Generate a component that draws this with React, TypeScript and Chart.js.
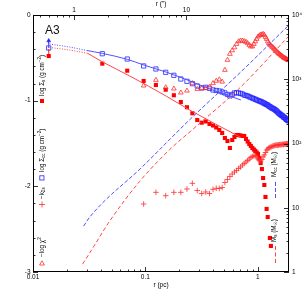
import { useEffect, useRef } from "react";
import { Chart, registerables } from "chart.js";
Chart.register(...registerables);

const FONT = '"Liberation Sans", "DejaVu Sans", Arial, sans-serif';
const RED = "rgb(255,0,0)";
const RED_LIGHT = "rgb(255,45,45)";
const BLUE = "rgb(35,35,255)";
const BLUE_LINE = "rgb(80,80,255)";
const RED_LINE = "rgb(255,70,70)";

// annulus radii (pc)
const RADII_PC = [
  0.0138, 0.0414, 0.069, 0.0966, 0.1242, 0.1518, 0.1794, 0.207, 0.2346, 0.2622,
  0.2898, 0.3174, 0.345, 0.3726, 0.4002, 0.4278, 0.4554, 0.483, 0.5106, 0.5382,
  0.5658, 0.5934, 0.621, 0.6486, 0.6762, 0.7038, 0.7314, 0.759, 0.7866, 0.8142,
  0.8418, 0.8694, 0.897, 0.9246, 0.9522, 0.9798, 1.0074, 1.035, 1.0626, 1.0902,
  1.1178, 1.1454, 1.173, 1.2006, 1.2282, 1.2558, 1.2834, 1.311, 1.3386, 1.3662,
  1.3938, 1.4214, 1.449, 1.4766, 1.5042, 1.5318, 1.5594, 1.587, 1.6146, 1.6422,
  1.6698, 1.6974, 1.725, 1.7526, 1.7802, 1.8078, 1.8354, 1.863, 1.8906,
];

// log Σ_s (filled red squares)
const LOG_SIGMA_S = [
  -0.479, -0.568, -0.65, -0.77, -0.817, -0.872, -0.937, -1.016, -1.077, -1.147,
  -1.226, -1.257, -1.243, -1.272, -1.29, -1.313, -1.342, -1.377, -1.436, -1.471,
  -1.552, -1.459, -1.424, -1.401, -1.401, -1.407, -1.412, -1.412, -1.447, -1.477,
  -1.506, -1.529, -1.552, -1.57, -1.587, -1.605, -1.622, -1.669, -1.728, -1.798,
  -1.903, -1.984, -2.124, -2.264, -2.358, null, -2.603, -2.696,
];

// log Σ_cc (open blue squares)
const LOG_SIGMA_CC = [
  -0.385, -0.452, -0.514, -0.595, -0.63, -0.669, -0.704, -0.747, -0.774, -0.802,
  -0.829, -0.852, -0.844, -0.856, -0.875, -0.881, -0.887, -0.899, -0.91, -0.928,
  -0.945, -0.928, -0.91, -0.907, -0.91, -0.916, -0.922, -0.934, -0.94, -0.945,
  -0.954, -0.963, -0.969, -0.977, -0.984, -0.992, -0.998, -1.004, -1.01, -1.016,
  -1.024, -1.031, -1.039, -1.045, -1.051, -1.062, -1.07, -1.077, -1.086, -1.091,
  -1.097, -1.103, -1.115, -1.121, -1.132, -1.144, -1.15, -1.161, -1.167, -1.173,
  -1.179, -1.191, -1.196, -1.202, -1.214, -1.22, -1.226, -1.231, -1.237,
];

// −log χ² (open red triangles)
const NEG_LOG_CHI2 = [
  null, null, null, -0.825, -0.759, -0.846, -0.86, -0.907, -0.884, -0.797,
  -0.864, -0.856, -0.856, -0.837, -0.797, -0.77, -0.753, -0.779, -0.642, -0.525,
  -0.455, -0.414, -0.379, -0.339, -0.309, -0.3, -0.3, -0.307, -0.315, -0.33,
  -0.35, -0.368, -0.368, -0.339, -0.309, -0.28, -0.253, -0.239, -0.233, -0.228,
  -0.222, -0.233, -0.257, -0.28, -0.309, -0.33, -0.344, -0.356, -0.37, -0.379,
  -0.391, -0.403, -0.414, -0.426, -0.438, -0.447, -0.455, -0.463, -0.473, -0.479,
  -0.487, -0.494, -0.502, -0.505, -0.511, -0.516, -0.521, -0.525, -0.529,
];

// −k_Σs (red plus)
const NEG_K = [
  null, null, null, -2.206, -2.07, -2.109, -2.07, -2.07, -2.031, -1.965,
  -2.049, -2.084, -2.066, -2.084, -2.035, -2.023, -2.025, -2.014, -1.955, -1.92,
  -1.885, -1.856, -1.833, -1.815, -1.792, -1.774, -1.751, -1.733, -1.716, -1.698,
  -1.681, -1.663, -1.651, -1.646, -1.64, -1.657, -1.681, -1.698, -1.704, -1.687,
  -1.657, -1.634, -1.605, -1.576, -1.564, -1.552, -1.547, -1.541, -1.535, -1.529,
  -1.526, -1.523, -1.52, -1.517, -1.521, -1.517, -1.514, -1.512, -1.515, -1.512,
  -1.509, -1.512, -1.506, -1.509, -1.506, -1.503, -1.506, -1.5, -1.502,
];

// error bars on innermost point
const ERR_CC_TOP = -0.3;
const ERR_S_TOP = -0.397;

// model fits (log Σ)
const FIT_CC_DOT_R = [0.01403, 0.02117, 0.03001];
const FIT_CC_DOT = [-0.339, -0.374, -0.414];
const FIT_CC_R = [0.03001, 0.04169, 0.0697, 0.0968, 0.152, 0.249, 0.3754, 0.7096];
const FIT_CC = [-0.414, -0.449, -0.519, -0.584, -0.665, -0.77, -0.864, -0.992];
const FIT_S_DOT_R = [0.01403, 0.02117, 0.0306];
const FIT_S_DOT = [-0.379, -0.409, -0.447];
const FIT_S_R = [0.0306, 0.04169, 0.0726, 0.1552, 0.249, 0.7096];
const FIT_S = [-0.447, -0.549, -0.712, -0.951, -1.11, -1.43];

// enclosed masses (M☉)
const MASS_C_R = [0.02821, 0.03192, 0.0948, 0.249, 0.6953, 1.9];
const MASS_C = [5.17, 7.13, 44.0, 236, 1262, 6998];
const MASS_S_R = [0.02764, 0.03192, 0.04812, 0.0891, 0.1651, 0.2759, 0.6953, 1.9];
const MASS_S = [1.33, 1.97, 6.18, 25.8, 80.7, 177, 738, 4723];

const ARCSEC_PC = 0.0232;
const R_MIN = 0.01;
const R_MAX = 1.9;
const X_TICKS = [0.01, 0.1, 1];
const X_TOP_TICKS = [1, 10];
const Y_TICKS = [-3, -2, -1, 0];
const M_TICKS = [1, 10, 100, 1000, 10000];
const M_LABELS = ["1", "10", "10²", "10³", "10⁴"];

function toPoints(xs: number[], ys: (number | null)[]) {
  return xs
    .map((x, i) => ({ x, y: ys[i] }))
    .filter((p) => p.y !== null && p.y !== undefined);
}

function logMarks(min: number, max: number) {
  const out: { v: number; major: boolean }[] = [];
  for (let e = Math.floor(Math.log10(min)) - 1; e <= Math.ceil(Math.log10(max)); e++) {
    for (let m = 1; m <= 9; m++) {
      const v = m * Math.pow(10, e);
      if (v >= min * 0.999 && v <= max * 1.001) out.push({ v, major: m === 1 });
    }
  }
  return out;
}

type Part = { t: string; s?: "sub" | "sup" };

function drawRich(ctx: CanvasRenderingContext2D, x: number, yBottom: number, parts: Part[], size: number) {
  ctx.save();
  ctx.translate(x, yBottom);
  ctx.rotate(-Math.PI / 2);
  ctx.fillStyle = "#000";
  ctx.textAlign = "left";
  ctx.textBaseline = "middle";
  let cx = 0;
  for (const p of parts) {
    const fs = p.s ? size * 0.72 : size;
    ctx.font = `${fs}px ${FONT}`;
    const dy = p.s === "sub" ? size * 0.32 : p.s === "sup" ? -size * 0.38 : 0;
    ctx.fillText(p.t, cx, dy);
    cx += ctx.measureText(p.t).width;
  }
  ctx.restore();
}

const decor = {
  id: "decor",
  afterDatasetsDraw(chart: any) {
    const { ctx, chartArea: a } = chart;
    const sx = chart.scales.x;
    const st = chart.scales.xTop;
    const sy = chart.scales.y;
    const sm = chart.scales.yM;
    ctx.save();
    ctx.strokeStyle = "#000";
    ctx.lineWidth = 0.8;
    ctx.beginPath();
    for (const t of logMarks(R_MIN, R_MAX)) {
      const p = Math.round(sx.getPixelForValue(t.v)) + 0.5;
      const L = t.major ? 5 : 2.5;
      ctx.moveTo(p, a.bottom);
      ctx.lineTo(p, a.bottom - L);
    }
    for (const t of logMarks(R_MIN / ARCSEC_PC, R_MAX / ARCSEC_PC)) {
      const p = Math.round(st.getPixelForValue(t.v)) + 0.5;
      const L = t.major ? 5 : 2.5;
      ctx.moveTo(p, a.top);
      ctx.lineTo(p, a.top + L);
    }
    for (let i = 0; i <= 15; i++) {
      const v = -3 + i * 0.2;
      const L = i % 5 === 0 ? 5 : 2.5;
      const p = Math.round(sy.getPixelForValue(v)) + 0.5;
      ctx.moveTo(a.left, p);
      ctx.lineTo(a.left + L, p);
    }
    for (const t of logMarks(1, 1e4)) {
      const p = Math.round(sm.getPixelForValue(t.v)) + 0.5;
      const L = t.major ? 5 : 2.5;
      ctx.moveTo(a.right, p);
      ctx.lineTo(a.right - L, p);
    }
    ctx.stroke();
    ctx.lineWidth = 1;
    ctx.strokeRect(a.left + 0.5, a.top + 0.5, a.right - a.left - 1, a.bottom - a.top - 1);

    // panel label
    ctx.fillStyle = "#111";
    ctx.font = `12px ${FONT}`;
    ctx.textAlign = "left";
    ctx.textBaseline = "alphabetic";
    ctx.fillText("A3", 45, 34);

    // left legend (rotated)
    const fs = 6.3;
    drawRich(ctx, 42, 96, [{ t: "log Σ" }, { t: "s", s: "sub" }, { t: " (g cm" }, { t: "−2", s: "sup" }, { t: ")" }], fs);
    drawRich(ctx, 42, 172, [{ t: "log Σ" }, { t: "cc", s: "sub" }, { t: " (g cm" }, { t: "−2", s: "sup" }, { t: ")" }], fs);
    drawRich(ctx, 42, 199, [{ t: "−k" }, { t: "Σs", s: "sub" }], fs);
    drawRich(ctx, 42, 257, [{ t: "−log χ" }, { t: "2", s: "sup" }], fs);
    // markers
    ctx.fillStyle = RED;
    ctx.fillRect(40, 99, 4, 4);
    ctx.strokeStyle = BLUE;
    ctx.lineWidth = 0.8;
    ctx.strokeRect(39.8, 175.8, 4.2, 4.2);
    ctx.strokeStyle = RED_LIGHT;
    ctx.beginPath();
    ctx.moveTo(39, 204.5);
    ctx.lineTo(45, 204.5);
    ctx.moveTo(42, 201.5);
    ctx.lineTo(42, 207.5);
    ctx.stroke();
    ctx.beginPath();
    ctx.moveTo(42, 260.8);
    ctx.lineTo(44.4, 265);
    ctx.lineTo(39.6, 265);
    ctx.closePath();
    ctx.stroke();

    // right legend
    drawRich(ctx, 274, 177, [{ t: "M" }, { t: "cc", s: "sub" }, { t: " (M" }, { t: "☉", s: "sub" }, { t: ")" }], fs);
    drawRich(ctx, 274, 242, [{ t: "M" }, { t: "s", s: "sub" }, { t: " (M" }, { t: "☉", s: "sub" }, { t: ")" }], fs);
    ctx.lineWidth = 1;
    ctx.strokeStyle = BLUE_LINE;
    ctx.setLineDash([4, 2]);
    ctx.beginPath();
    ctx.moveTo(275.5, 182);
    ctx.lineTo(275.5, 200);
    ctx.stroke();
    ctx.strokeStyle = RED_LINE;
    ctx.setLineDash([4, 2.5]);
    ctx.beginPath();
    ctx.moveTo(275.5, 246);
    ctx.lineTo(275.5, 263);
    ctx.stroke();
    ctx.restore();
  },
};

const fixedTicks = (vals: number[]) => (s: any) => {
  s.ticks = vals.map((v) => ({ value: v }));
};

export default function App() {
  const ref = useRef<HTMLCanvasElement | null>(null);
  useEffect(() => {
    if (!ref.current) return;
    Chart.defaults.font.family = FONT;
    Chart.defaults.font.size = 6.5;
    Chart.defaults.color = "#000";
    const r0 = RADII_PC[0];
    const lineDs = (data: any[], color: string, dash: number[], yAxisID = "y", width = 1) => ({
      data,
      showLine: true,
      pointRadius: 0,
      borderColor: color,
      borderWidth: width,
      borderDash: dash,
      fill: false,
      cubicInterpolationMode: "monotone",
      xAxisID: "x",
      yAxisID,
    });
    const chart = new Chart(ref.current, {
      type: "scatter",
      data: {
        datasets: [
          lineDs(toPoints(MASS_C_R, MASS_C), BLUE_LINE, [4, 2], "yM"),
          lineDs(toPoints(MASS_S_R, MASS_S), RED_LINE, [4, 2.5], "yM"),
          lineDs(toPoints(FIT_CC_DOT_R, FIT_CC_DOT), BLUE_LINE, [1, 1.5]),
          lineDs(toPoints(FIT_CC_R, FIT_CC), BLUE_LINE, []),
          lineDs(toPoints(FIT_S_DOT_R, FIT_S_DOT), RED_LINE, [1, 1.5]),
          lineDs(toPoints(FIT_S_R, FIT_S), RED_LINE, []),
          lineDs([{ x: r0, y: LOG_SIGMA_CC[0] }, { x: r0, y: ERR_CC_TOP }], BLUE, []),
          lineDs([{ x: r0, y: LOG_SIGMA_S[0] }, { x: r0, y: ERR_S_TOP }], RED, []),
          {
            data: [{ x: r0, y: ERR_CC_TOP }],
            pointStyle: "triangle",
            pointRadius: 2.3,
            backgroundColor: BLUE,
            borderColor: BLUE,
            borderWidth: 0.5,
            xAxisID: "x",
            yAxisID: "y",
          },
          {
            data: toPoints(RADII_PC, NEG_K),
            pointStyle: "cross",
            pointRadius: 2.8,
            borderColor: RED_LIGHT,
            borderWidth: 0.8,
            xAxisID: "x",
            yAxisID: "y",
          },
          {
            data: toPoints(RADII_PC, NEG_LOG_CHI2),
            pointStyle: "triangle",
            pointRadius: 2.7,
            borderColor: RED_LIGHT,
            backgroundColor: "rgba(0,0,0,0)",
            borderWidth: 0.8,
            xAxisID: "x",
            yAxisID: "y",
          },
          {
            data: toPoints(RADII_PC, LOG_SIGMA_CC),
            pointStyle: "rect",
            pointRadius: 3,
            borderColor: BLUE,
            backgroundColor: "rgba(0,0,0,0)",
            borderWidth: 0.8,
            xAxisID: "x",
            yAxisID: "y",
          },
          {
            data: toPoints(RADII_PC, LOG_SIGMA_S),
            pointStyle: "rect",
            pointRadius: 2.9,
            borderColor: RED,
            backgroundColor: RED,
            borderWidth: 0,
            xAxisID: "x",
            yAxisID: "y",
          },
        ] as any,
      },
      options: {
        animation: false,
        responsive: false,
        devicePixelRatio: 1,
        layout: { padding: 0 },
        plugins: { legend: { display: false }, tooltip: { enabled: false } },
        scales: {
          x: {
            type: "logarithmic",
            position: "bottom",
            min: R_MIN,
            max: R_MAX,
            afterBuildTicks: fixedTicks(X_TICKS),
            afterFit: (s: any) => {
              s.height = 33;
            },
            ticks: { callback: (v: any) => String(v), padding: 1, maxRotation: 0, autoSkip: false },
            grid: { display: false, drawTicks: false },
            border: { display: false },
            title: { display: true, text: "r (pc)", padding: { top: 0, bottom: 16 } },
          },
          xTop: {
            type: "logarithmic",
            position: "top",
            min: R_MIN / ARCSEC_PC,
            max: R_MAX / ARCSEC_PC,
            afterBuildTicks: fixedTicks(X_TOP_TICKS),
            afterFit: (s: any) => {
              s.height = 15;
            },
            ticks: { callback: (v: any) => String(v), padding: 1, maxRotation: 0, autoSkip: false },
            grid: { display: false, drawTicks: false },
            border: { display: false },
            title: { display: true, text: 'r (")', padding: { top: 0.5, bottom: 0 } },
          },
          y: {
            type: "linear",
            position: "left",
            min: -3,
            max: 0,
            afterBuildTicks: fixedTicks(Y_TICKS),
            afterFit: (s: any) => {
              s.width = 33;
            },
            ticks: { callback: (v: any) => String(v), padding: 2.5, autoSkip: false },
            grid: { display: false, drawTicks: false },
            border: { display: false },
          },
          yM: {
            type: "logarithmic",
            position: "right",
            min: 1,
            max: 10000,
            afterBuildTicks: fixedTicks(M_TICKS),
            afterFit: (s: any) => {
              s.width = 16;
            },
            ticks: {
              callback: (v: any) => M_LABELS[M_TICKS.indexOf(Number(v))] ?? "",
              padding: 3,
              autoSkip: false,
            },
            grid: { display: false, drawTicks: false },
            border: { display: false },
          },
        },
      } as any,
      plugins: [decor],
    });
    return () => chart.destroy();
  }, []);
  return (
    <div style={{ position: "absolute", left: 0, top: 0, width: 305, height: 305, background: "#fff" }}>
      <canvas ref={ref} width={305} height={305} style={{ display: "block" }} />
    </div>
  );
}
